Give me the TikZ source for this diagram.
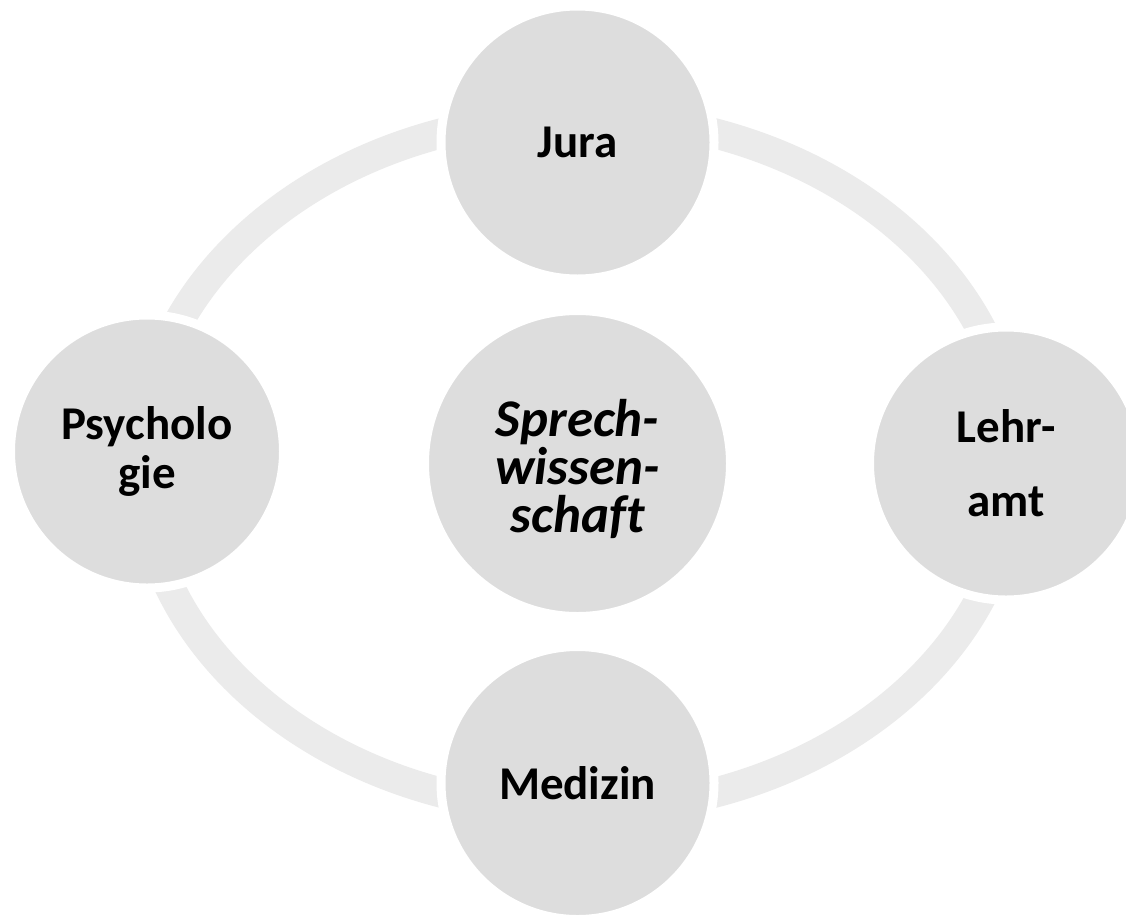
\documentclass[tikz,border=0pt]{standalone}
\usepackage{fontspec}
\setmainfont{Carlito}[Ligatures=NoCommon]
\definecolor{ringgray}{HTML}{EBEBEB}
\definecolor{nodegray}{HTML}{DDDDDD}
\tikzset{
  bubble/.style={circle, fill=nodegray, draw=white, line width=9pt, inner sep=0pt,
    minimum size=273pt, align=center, text=black,
    font=\bfseries\fontsize{47}{49}\selectfont},
  hub/.style={bubble, minimum size=306pt, font=\bfseries\itshape\fontsize{53}{48}\selectfont},
  ring/.style={draw=ringgray, line width=30pt}
}
\begin{document}
\begin{tikzpicture}[x=1pt,y=-1pt]
  \useasboundingbox (0,0) rectangle (1126,916);
  \clip (0,0) rectangle (1126,916);
  \fill[white] (0,0) rectangle (1126,916);
  \coordinate (ringc) at (578,463);
  \draw[ring] (ringc) ellipse [x radius=437, y radius=347];
  \node[bubble] (jura) at (577.5,142.5) {Jura};
  \node[bubble] (psych) at (147,451.5) {Psycholo\\gie};
  \node[bubble] (lehr) at (1006,463.5) {Lehr-\\[25pt]amt};
  \node[bubble] (med) at (577.5,783) {Medizin};
  \node[hub] (sprech) at (577.5,463.5) {};
  \node[align=center, inner sep=0pt, font=\bfseries\itshape\fontsize{53}{48}\selectfont]
    (sprechtxt) at ([yshift=-5pt]sprech.center) {Sprech-\\wissen-\\schaft};
\end{tikzpicture}
\end{document}
